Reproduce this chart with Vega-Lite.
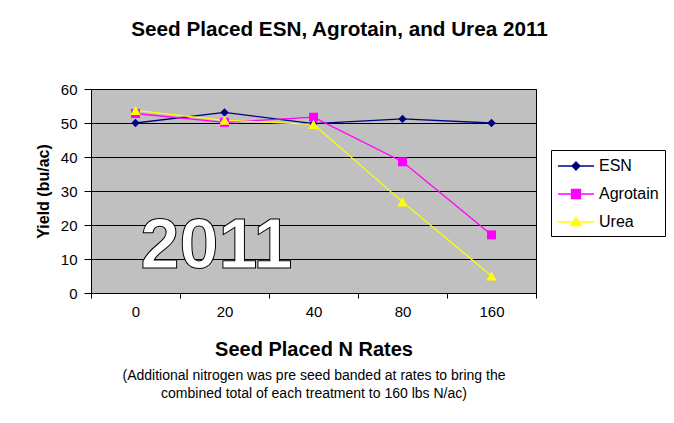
{
  "$schema": "https://vega.github.io/schema/vega-lite/v6.json",
  "width": 445,
  "height": 204,
  "autosize": "none",
  "padding": {"left": 91, "top": 89, "right": 138, "bottom": 130},
  "background": "white",
  "title": {
    "text": "Seed Placed ESN, Agrotain, and Urea 2011",
    "font": "Liberation Sans",
    "fontSize": 20.7,
    "fontWeight": "bold",
    "color": "black",
    "anchor": "middle",
    "frame": "group",
    "dx": 26,
    "offset": 41
  },
  "config": {
    "view": {"fill": "#C0C0C0", "stroke": "#000000", "strokeWidth": 1},
    "font": "Liberation Sans",
    "axisY": {
      "grid": true,
      "gridColor": "black",
      "gridWidth": 1,
      "tickColor": "black",
      "tickSize": 7,
      "domainColor": "black",
      "labelFontSize": 15,
      "labelColor": "black",
      "labelPadding": 7,
      "titleFontSize": 16,
      "titleFontWeight": "bold",
      "titleColor": "black",
      "titlePadding": 9
    }
  },
  "data": {
    "values": [
      {"rate": "0", "series": "ESN", "yield": 50.0},
      {"rate": "20", "series": "ESN", "yield": 53.1},
      {"rate": "40", "series": "ESN", "yield": 49.8},
      {"rate": "80", "series": "ESN", "yield": 51.2},
      {"rate": "160", "series": "ESN", "yield": 50.0},
      {"rate": "0", "series": "Agrotain", "yield": 52.8},
      {"rate": "20", "series": "Agrotain", "yield": 50.2},
      {"rate": "40", "series": "Agrotain", "yield": 51.7},
      {"rate": "80", "series": "Agrotain", "yield": 38.6},
      {"rate": "160", "series": "Agrotain", "yield": 17.1},
      {"rate": "0", "series": "Urea", "yield": 53.7},
      {"rate": "20", "series": "Urea", "yield": 50.8},
      {"rate": "40", "series": "Urea", "yield": 49.6},
      {"rate": "80", "series": "Urea", "yield": 26.8},
      {"rate": "160", "series": "Urea", "yield": 5.0}
    ]
  },
  "layer": [
    {
      "mark": {"type": "line", "strokeWidth": 1.3},
      "encoding": {
        "x": {
          "field": "rate",
          "type": "ordinal",
          "sort": ["0", "20", "40", "80", "160"],
          "scale": {"type": "band", "paddingInner": 0, "paddingOuter": 0},
          "axis": {
            "orient": "bottom",
            "labelAngle": 0,
            "tickBand": "extent",
            "tickSize": 5,
            "tickColor": "black",
            "domainColor": "black",
            "labelFontSize": 15,
            "labelColor": "black",
            "labelPadding": 6,
            "title": "Seed Placed N Rates",
            "titleFontSize": 20,
            "titleFontWeight": "bold",
            "titleColor": "black",
            "titlePadding": 20,
            "grid": false
          }
        },
        "y": {
          "field": "yield",
          "type": "quantitative",
          "scale": {"domain": [0, 60], "nice": false},
          "axis": {"values": [0, 10, 20, 30, 40, 50, 60], "title": "Yield (bu/ac)"}
        },
        "color": {
          "field": "series",
          "type": "nominal",
          "scale": {"domain": ["ESN", "Agrotain", "Urea"], "range": ["#000080", "#FF00FF", "#FFFF00"]},
          "legend": {
            "title": null,
            "orient": "none",
            "legendX": 460,
            "legendY": 61,
            "strokeColor": "black",
            "fillColor": "white",
            "padding": 6,
            "labelFontSize": 16,
            "labelColor": "black",
            "labelOffset": 22,
            "rowPadding": 10,
            "symbolSize": 324,
            "encode": {
              "symbols": {
                "update": {
                  "shape": {"signal": "datum.value === 'ESN' ? 'M-1,0H3M1,-0.44L1.44,0L1,0.44L0.56,0Z' : datum.value === 'Agrotain' ? 'M-1,0H3M0.5,-0.5H1.5V0.5H0.5Z' : 'M-1,0H3M1,-0.5L1.6,0.4H0.4Z'"},
                  "fill": {"scale": "color", "field": "value"},
                  "stroke": {"scale": "color", "field": "value"},
                  "strokeWidth": {"value": 1.3},
                  "opacity": {"value": 1}
                }
              }
            }
          }
        }
      }
    },
    {
      "transform": [{"filter": "datum.series === 'ESN'"}],
      "mark": {"type": "point", "filled": true, "opacity": 1, "shape": "diamond", "size": 70},
      "encoding": {
        "x": {"field": "rate", "type": "ordinal", "sort": ["0", "20", "40", "80", "160"], "axis": null},
        "y": {"field": "yield", "type": "quantitative", "axis": {"values": [0, 10, 20, 30, 40, 50, 60], "title": "Yield (bu/ac)"}},
        "color": {"field": "series", "type": "nominal"}
      }
    },
    {
      "transform": [{"filter": "datum.series === 'Agrotain'"}],
      "mark": {"type": "point", "filled": true, "opacity": 1, "shape": "square", "size": 81},
      "encoding": {
        "x": {"field": "rate", "type": "ordinal", "sort": ["0", "20", "40", "80", "160"], "axis": null},
        "y": {"field": "yield", "type": "quantitative", "axis": {"values": [0, 10, 20, 30, 40, 50, 60], "title": "Yield (bu/ac)"}},
        "color": {"field": "series", "type": "nominal"}
      }
    },
    {
      "transform": [{"filter": "datum.series === 'Urea'"}],
      "mark": {"type": "point", "filled": true, "opacity": 1, "shape": "triangle-up", "size": 110},
      "encoding": {
        "x": {"field": "rate", "type": "ordinal", "sort": ["0", "20", "40", "80", "160"], "axis": null},
        "y": {"field": "yield", "type": "quantitative", "axis": {"values": [0, 10, 20, 30, 40, 50, 60], "title": "Yield (bu/ac)"}},
        "color": {"field": "series", "type": "nominal"}
      }
    },
    {
      "data": {"values": [{"label": "2011"}]},
      "mark": {
        "type": "text",
        "font": "Liberation Sans",
        "fontSize": 70,
        "fontWeight": "bold",
        "fill": "white",
        "stroke": "black",
        "strokeWidth": 1,
        "align": "center",
        "baseline": "alphabetic",
        "dx": -8
      },
      "encoding": {
        "x": {
          "datum": "20",
          "axis": {
            "orient": "bottom",
            "offset": 75,
            "labels": false,
            "ticks": false,
            "domain": false,
            "grid": false,
            "title": ["(Additional nitrogen was pre seed banded at rates to bring the", "combined total of each treatment to 160 lbs N/ac)"],
            "titleFontSize": 14,
            "titleFontWeight": "normal",
            "titleColor": "black",
            "titlePadding": 0,
            "titleLineHeight": 18
          }
        },
        "y": {"datum": 7.3, "axis": {"values": [0, 10, 20, 30, 40, 50, 60], "title": "Yield (bu/ac)"}},
        "text": {"field": "label"}
      }
    }
  ],
  "resolve": {"axis": {"x": "independent"}}
}
